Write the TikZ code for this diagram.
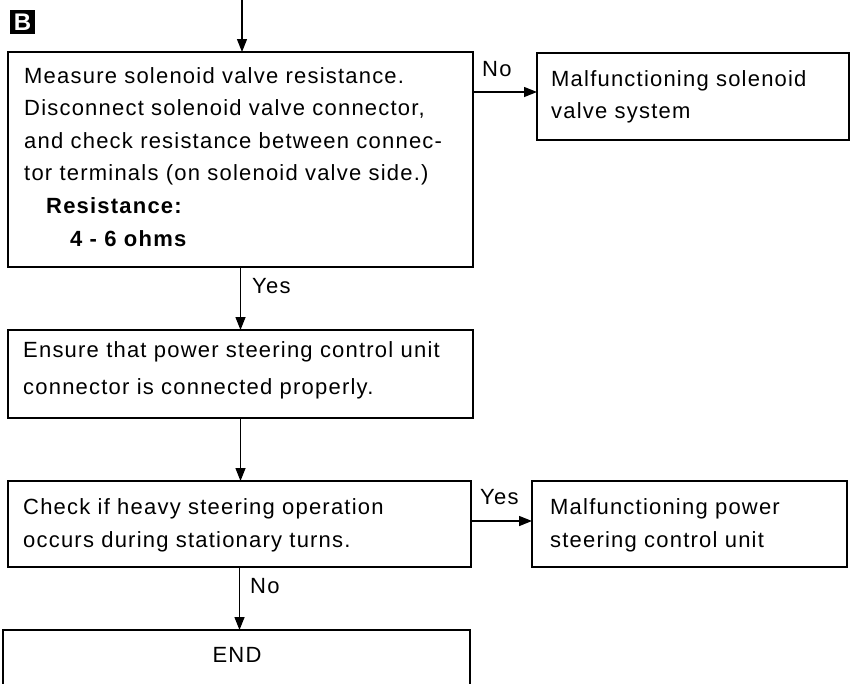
\documentclass[tikz,border=0pt]{standalone}
\usepackage{fontspec}
\setmainfont{Liberation Sans}[LetterSpace=5.5]
\usetikzlibrary{arrows.meta}
\tikzset{
  box/.style={draw, line width=1.6pt, inner sep=0pt, outer sep=0pt},
  arr/.style={line width=1.4pt, -{Triangle[length=13pt,width=10pt]}},
  txt/.style={anchor=base west, inner sep=0pt, font=\fontsize{22}{26}\selectfont},
  btxt/.style={txt, font=\fontsize{22}{26}\selectfont\bfseries},
  lbl/.style={anchor=base west, inner sep=0pt, font=\fontsize{22}{26}\selectfont}
}
\begin{document}
\begin{tikzpicture}[x=1pt,y=-1pt]
\useasboundingbox (0,0) rectangle (864,683);
\clip (0,0) rectangle (864,683);
% label B
\node[fill=black, text=white, inner sep=0pt, minimum width=25pt, minimum height=24pt,
      font=\fontsize{24}{24}\selectfont\bfseries] (B) at (22.5,22) {\addfontfeature{LetterSpace=0}B};
% boxes
\node[box, minimum width=465pt, minimum height=215pt] (m1) at (240.5,159.5) {};
\node[box, minimum width=312pt, minimum height=87pt] (sv) at (693,96.5) {};
\node[box, minimum width=465pt, minimum height=88pt] (m2) at (240.5,374) {};
\node[box, minimum width=463pt, minimum height=86pt] (m3) at (239.5,524) {};
\node[box, minimum width=315pt, minimum height=86pt] (pw) at (689.5,524) {};
\node[box, minimum width=467pt, minimum height=80pt] (endb) at (236.5,670) {};
% texts box 1
\node[txt] (t1a) at (24,83) {Measure solenoid valve resistance.};
\node[txt] (t1b) at (24,115.6) {Disconnect solenoid valve connector,};
\node[txt] (t1c) at (24,148.2) {and check resistance between connec-};
\node[txt] (t1d) at (24,180.8) {tor terminals (on solenoid valve side.)};
\node[btxt] (t1e) at (46,213.4) {Resistance:};
\node[btxt] (t1f) at (70,246) {4 - 6 ohms};
% texts sv
\node[txt] (tsa) at (551,86) {Malfunctioning solenoid};
\node[txt] (tsb) at (551,118) {valve system};
% texts box 2
\node[txt] (t2a) at (23,357) {Ensure that power steering control unit};
\node[txt] (t2b) at (23,394) {connector is connected properly.};
% texts box 3
\node[txt] (t3a) at (23,514) {Check if heavy steering operation};
\node[txt] (t3b) at (23,547) {occurs during stationary turns.};
% texts pw
\node[txt] (tpa) at (550,514) {Malfunctioning power};
\node[txt] (tpb) at (550,547) {steering control unit};
% END
\node[anchor=base, inner sep=0pt, font=\fontsize{22}{26}\selectfont] (tend) at (237,662) {END};
% connectors
\coordinate (top) at (242,0);
\draw[arr] (top) -- (top |- m1.north);
\coordinate (a1) at ([yshift=4.5pt]sv.west);
\draw[arr] (m1.east |- a1) -- (a1);
\draw[arr] (m1.south) -- (m1.south |- m2.north);
\draw[arr] (m2.south) -- (m2.south |- m3.north);
\coordinate (a2) at ([yshift=3pt]pw.west);
\draw[arr] (m3.east |- a2) -- (a2);
\draw[arr] (m3.south) -- (m3.south |- endb.north);
% connector labels
\node[lbl] (lno1) at (482,76) {No};
\node[lbl] (lyes1) at (252,293) {Yes};
\node[lbl] (lyes2) at (480,504) {Yes};
\node[lbl] (lno2) at (250,593) {No};
\end{tikzpicture}
\end{document}
